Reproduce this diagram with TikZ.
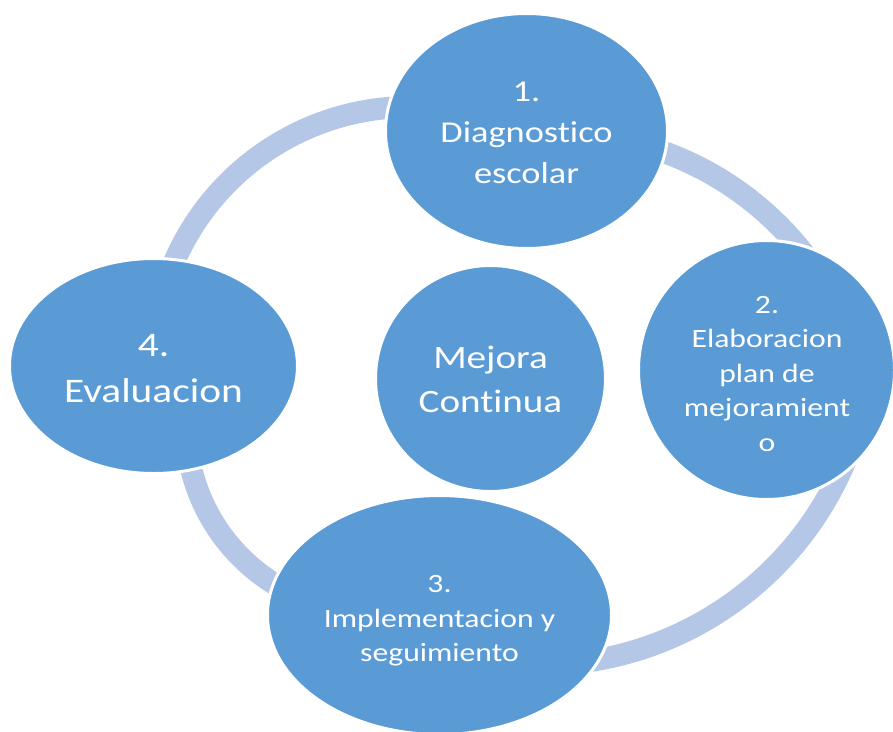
\documentclass[tikz,border=0pt]{standalone}
\usepackage{fontspec}
\setmainfont{Carlito}[FakeStretch=1.2,Ligatures=NoCommon]
\usetikzlibrary{shapes.geometric}
\definecolor{nodeblue}{HTML}{5B9BD5}
\definecolor{ringblue}{HTML}{B4C7E7}
\begin{document}
\begin{tikzpicture}[x=1pt,y=-1pt,
  blob/.style={ellipse, fill=nodeblue, draw=white, line width=3pt, inner sep=0pt},
  txt/.style={text=white, align=center, inner sep=0pt},
  ringline/.style={draw=ringblue, line width=22pt}]
\useasboundingbox[fill=white] (0,0) rectangle (893,731);
% background ring (visible arcs between the ellipses)
\draw[ringline] plot[domain=200:275, samples=60] ({410+257*cos(\x)}, {364+257*sin(\x)});
\draw[ringline] plot[domain=-75:-36, samples=40] ({556+315*cos(\x)}, {448+315*sin(\x)});
\draw[ringline] plot[domain=22:88, samples=60] ({539+332*cos(\x)}, {333+332*sin(\x)});
\draw[ringline] plot[domain=118:172, samples=50] ({373+187*cos(\x)}, {425+187*sin(\x)});
% ellipses
\node[blob, minimum width=282pt, minimum height=235pt] (e1) at (526.5,131) {};
\node[blob, minimum width=256pt, minimum height=259pt] (e2) at (766.5,370) {};
\node[blob, minimum width=344pt, minimum height=239pt] (e3) at (439.5,615) {};
\node[blob, minimum width=288pt, minimum height=215pt] (e4) at (153.5,366) {};
\node[blob, minimum width=230pt, minimum height=226pt] (c) at (490.5,378.5) {};
% texts
\node[txt, font=\fontsize{30.3}{41}\selectfont] (t1) at (526.5,132.4) {1.\\Diagnostico\\escolar};
\node[txt, font=\fontsize{26.4}{34.5}\selectfont] (t2) at (767,373.7) {2.\\Elaboracion\\plan de\\mejoramient\\o};
\node[txt, font=\fontsize{26.4}{34.5}\selectfont] (t3) at (439.5,620.9) {3.\\Implementacion y\\seguimiento};
\node[txt, font=\fontsize{34.5}{46}\selectfont] (t4) at (153.5,368.2) {4.\\Evaluacion};
\node[txt, font=\fontsize{32.6}{44}\selectfont] (t5) at (490.5,379.8) {Mejora\\Continua};
\end{tikzpicture}
\end{document}
